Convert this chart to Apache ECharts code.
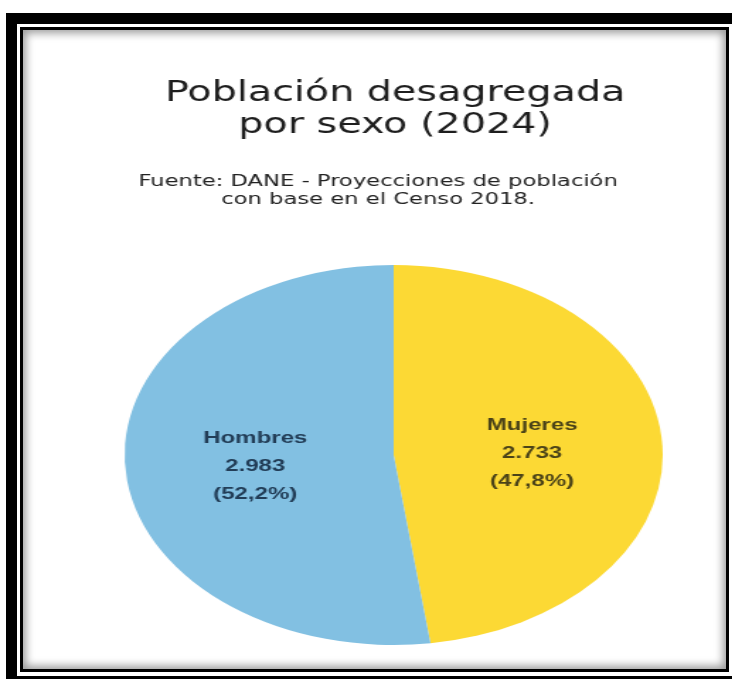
<!DOCTYPE html>
<html>
<head>
<meta charset="utf-8">
<script src="https://cdn.jsdelivr.net/npm/echarts@6/dist/echarts.min.js"></script>
<style>
html, body {
  margin: 0;
  padding: 0;
  background: #fff;
}
#wrap {
  position: relative;
  width: 732px;
  height: 679px;
  overflow: hidden;
}
/* the original picture is stretched sideways, so the chart is too */
#chart {
  position: absolute;
  left: 0;
  top: 0;
  width: 517px;
  height: 679px;
  transform: scaleX(1.416);
  transform-origin: 0 0;
}
#frame-out {
  position: absolute;
  left: 6px;
  top: 13px;
  width: 740px;
  height: 680px;
  border-left: 11px solid #000;
  border-top: 11px solid #000;
  box-sizing: border-box;
  pointer-events: none;
}
#frame-in {
  position: absolute;
  left: 20px;
  top: 27px;
  width: 709px;
  height: 645px;
  border: 3px solid #000;
  box-sizing: border-box;
  box-shadow: inset 0 0 8px 3px rgba(0,0,0,0.4);
  pointer-events: none;
}
#frame-bottom {
  position: absolute;
  left: 6px;
  top: 676px;
  width: 726px;
  height: 3px;
  background: #000;
}
</style>
</head>
<body>
<div id="wrap">
  <div id="chart"></div>
  <div id="frame-out"></div>
  <div id="frame-in"></div>
  <div id="frame-bottom"></div>
</div>
<script>
// datos (miles de personas)
var categorias = ["Mujeres", "Hombres"];
var valores = [2733, 2983];
var colores = ["#fcd934", "#82c0e2"];
var coloresTexto = ["#4b4318", "#223d57"];

var tituloTexto = "Población desagregada\npor sexo (2024)";
var fuenteTexto = "Fuente: DANE - Proyecciones de población\ncon base en el Censo 2018.";

function miles(v) {
  return String(v).replace(/\B(?=(\d{3})+(?!\d))/g, ".");
}

var datos = [];
for (var i = 0; i < categorias.length; i++) {
  datos.push({
    name: categorias[i],
    value: valores[i],
    itemStyle: { color: colores[i] },
    label: { color: coloresTexto[i] }
  });
}

var chart = echarts.init(document.getElementById("chart"));
var option = {
  backgroundColor: "#fff",
  animation: false,
  title: [
    {
      text: tituloTexto,
      left: 279,
      top: 78,
      textAlign: "center",
      padding: 0,
      textStyle: {
        fontFamily: "DejaVu Sans",
        fontSize: 28,
        fontWeight: "normal",
        lineHeight: 32,
        color: "#1e1e1e"
      }
    },
    {
      text: fuenteTexto,
      left: 267,
      top: 173,
      textAlign: "center",
      padding: 0,
      textStyle: {
        fontFamily: "DejaVu Sans",
        fontSize: 16,
        fontWeight: "normal",
        lineHeight: 18,
        color: "#222"
      }
    }
  ],
  series: [
    {
      type: "pie",
      center: [278, 455],
      radius: 190,
      startAngle: 90,
      clockwise: true,
      silent: true,
      label: {
        position: "inside",
        offset: [0, 5],
        fontFamily: "Liberation Sans",
        fontSize: 17,
        fontWeight: "bold",
        lineHeight: 28,
        formatter: function(p) {
          return p.name + "\n" + miles(p.value) + "\n(" + p.percent.toFixed(1).replace(".", ",") + "%)";
        }
      },
      labelLine: { show: false },
      data: datos
    }
  ]
};
chart.setOption(option);
</script>
</body>
</html>
